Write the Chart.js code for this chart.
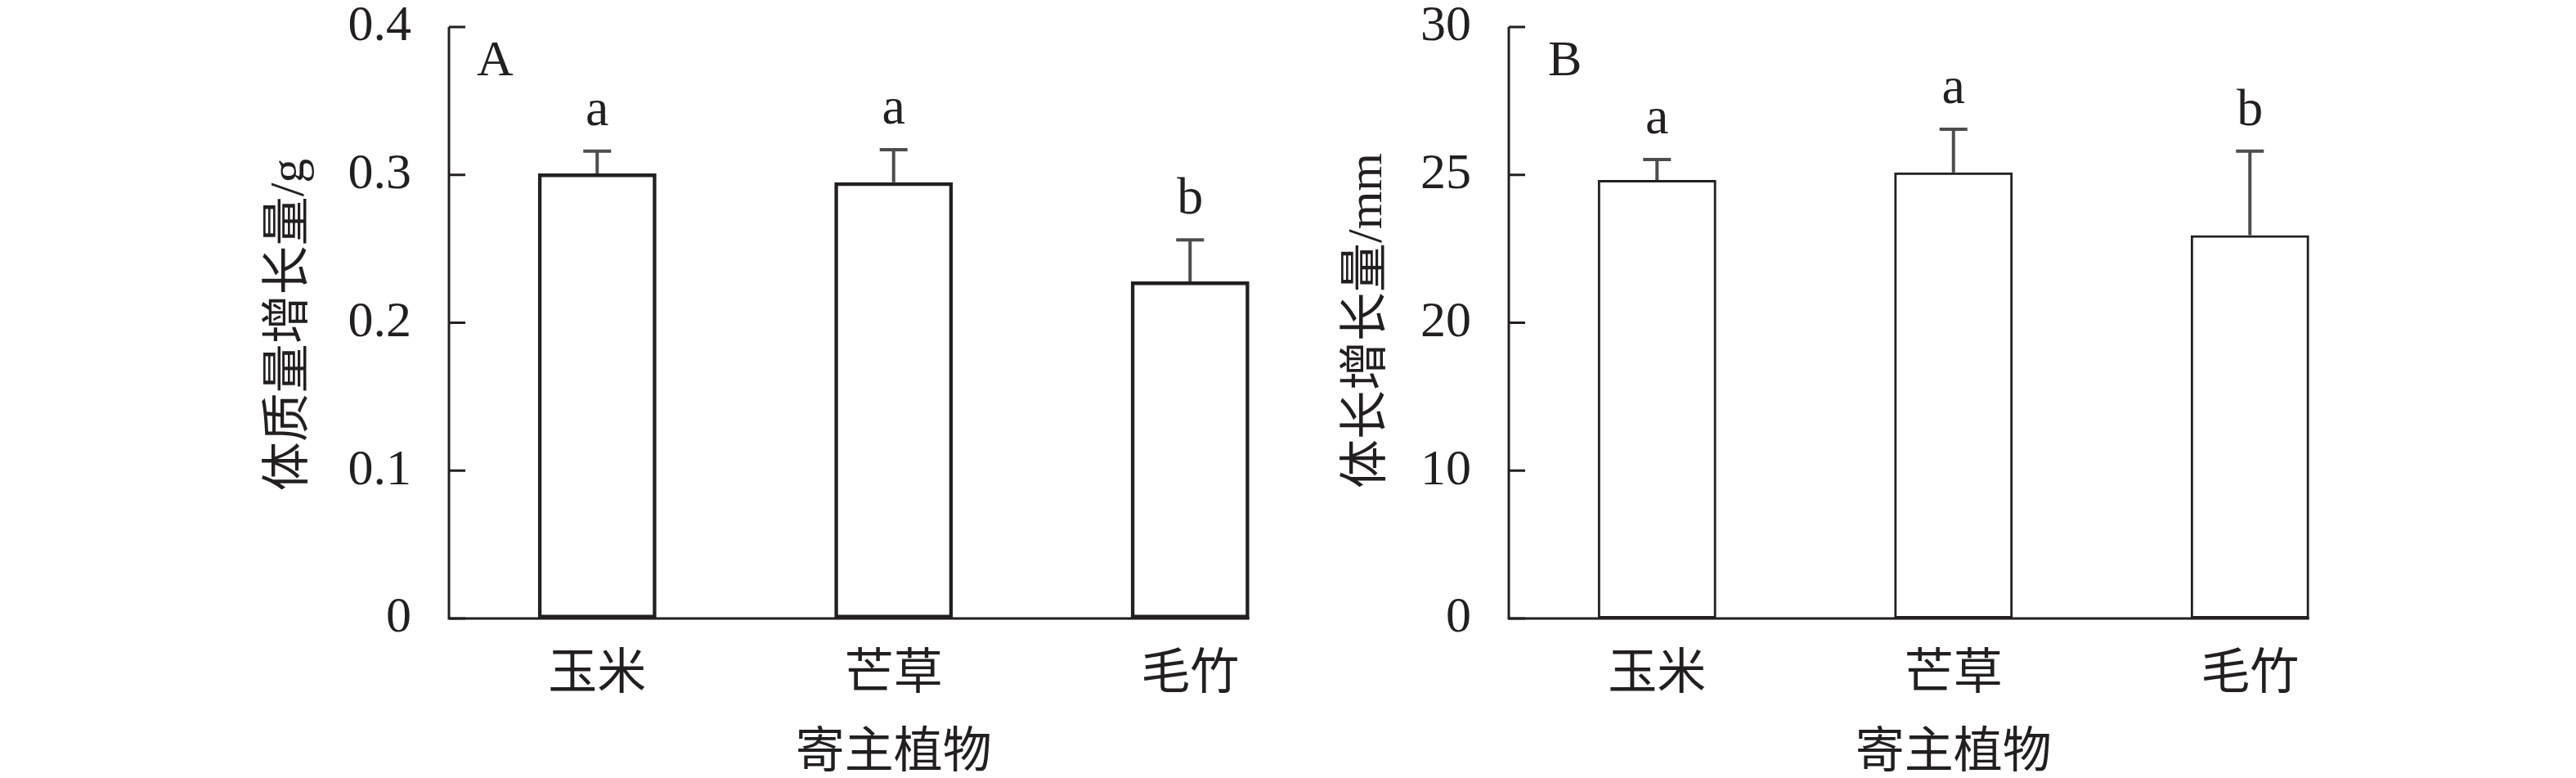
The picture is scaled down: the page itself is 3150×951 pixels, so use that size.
<!DOCTYPE html>
<html>
<head>
<meta charset="utf-8">
<script src="https://cdn.jsdelivr.net/npm/chart.js@4.4.1/dist/chart.umd.min.js"></script>
<style>
  body { margin: 0; background: #fff; }
  #wrap { position: relative; width: 3150px; height: 951px; }
  canvas { position: absolute; top: 0; }
</style>
</head>
<body>
<div id="wrap">
  <canvas id="chartA" width="1700" height="951" style="left:0"></canvas>
  <canvas id="chartB" width="1854" height="951" style="left:1296px"></canvas>
</div>
<script>
// host plants
const categories = ['玉米', '芒草', '毛竹'];

// A: body mass gain (g)
const massMean = [0.301, 0.295, 0.228];
const massErr = [0.015, 0.022, 0.028];
const massLetters = ['a', 'a', 'b'];
const massTicks = [0, 0.1, 0.2, 0.3, 0.4];
const massTickLabels = ['0', '0.1', '0.2', '0.3', '0.4'];

// B: body length gain (mm) - axis is broken above 20
const lenMean = [24.83, 25.08, 22.96];
const lenErr = [0.69, 1.46, 2.84];
const lenLetters = ['a', 'a', 'b'];
const lenTicks = [0, 10, 20, 25, 30];
const lenTickLabels = ['0', '10', '20', '25', '30'];

const ink = '#231f20';
const serif = '"Liberation Serif", "Noto Sans CJK SC", serif';

// value -> position on an axis whose ticks are evenly spaced
function toAxis(v, ticks) {
  for (let i = 0; i < ticks.length - 1; i++) {
    if (v <= ticks[i + 1] || i === ticks.length - 2) {
      return i + (v - ticks[i]) / (ticks[i + 1] - ticks[i]);
    }
  }
}

const panelPlugin = {
  id: 'panel',
  beforeDatasetsDraw(chart, args, o) {
    const ctx = chart.ctx, y = chart.scales.y, a = chart.chartArea;
    const bars = chart.getDatasetMeta(0).data;
    const last = bars[bars.length - 1];
    const y0 = y.getPixelForValue(0);
    ctx.save();
    ctx.strokeStyle = ink;
    ctx.lineWidth = 3;
    ctx.lineJoin = 'miter';
    ctx.beginPath();
    ctx.moveTo(a.left, y.getPixelForValue(o.ticks.length - 1));
    ctx.lineTo(a.left, y0);
    ctx.lineTo(last.x + last.width / 2, y0);
    ctx.stroke();

    ctx.fillStyle = ink;
    ctx.font = '62px ' + serif;
    ctx.textAlign = 'right';
    ctx.textBaseline = 'middle';
    o.ticks.forEach((t, i) => {
      const py = y.getPixelForValue(i);
      ctx.beginPath();
      ctx.moveTo(a.left, py);
      ctx.lineTo(a.left + 20, py);
      ctx.stroke();
      ctx.fillText(o.tickLabels[i], a.left - 46, py);
    });
    ctx.restore();
  },
  afterDatasetsDraw(chart, args, o) {
    const ctx = chart.ctx, y = chart.scales.y;
    const bars = chart.getDatasetMeta(0).data;
    ctx.save();
    ctx.fillStyle = ink;
    bars.forEach((bar, i) => {
      const top = y.getPixelForValue(toAxis(o.mean[i] + o.err[i], o.ticks));
      ctx.strokeStyle = '#4d4d4f';
      ctx.lineWidth = 4;
      ctx.beginPath();
      ctx.moveTo(bar.x, bar.y);
      ctx.lineTo(bar.x, top);
      ctx.moveTo(bar.x - 17, top);
      ctx.lineTo(bar.x + 17, top);
      ctx.stroke();

      ctx.font = '64px ' + serif;
      ctx.textAlign = 'center';
      ctx.textBaseline = 'alphabetic';
      ctx.fillText(o.letters[i], bar.x, top - 32);

      ctx.font = '60px ' + serif;
      ctx.textBaseline = 'middle';
      ctx.fillText(categories[i], bar.x, 826);
    });
    ctx.textAlign = 'center';
    ctx.textBaseline = 'middle';
    ctx.font = '60px ' + serif;
    ctx.fillText('寄主植物', bars[1].x, 922);

    ctx.font = '62px ' + serif;
    ctx.textAlign = 'left';
    ctx.fillText(o.panel, o.panelX, 76);

    ctx.translate(o.titleX, o.titleY);
    ctx.rotate(-Math.PI / 2);
    ctx.textAlign = 'center';
    ctx.font = '60px ' + serif;
    ctx.fillText(o.title, 0, 0);
    ctx.restore();
  }
};

function makeChart(id, width, mean, err, ticks, tickLabels, letters, borderW, extra) {
  return new Chart(document.getElementById(id), {
    type: 'bar',
    data: {
      labels: categories,
      datasets: [{
        data: mean.map(v => toAxis(v, ticks)),
        backgroundColor: 'rgba(255,255,255,0)',
        borderColor: ink,
        borderWidth: borderW,
        borderSkipped: false,
        barPercentage: 0.4,
        categoryPercentage: 1.0
      }]
    },
    options: {
      responsive: false,
      animation: false,
      events: [],
      layout: { padding: { left: 549, right: width - 549 - 1087.5, top: 33, bottom: 951 - 756 } },
      scales: {
        x: { type: 'category', offset: true, display: false },
        y: { min: 0, max: ticks.length - 1, display: false }
      },
      plugins: {
        legend: { display: false },
        tooltip: { enabled: false },
        panel: Object.assign({ mean, err, ticks, tickLabels, letters }, extra)
      }
    },
    plugins: [panelPlugin]
  });
}

makeChart('chartA', 1700, massMean, massErr, massTicks, massTickLabels, massLetters, 4.5,
  { panel: 'A', panelX: 583, title: '体质量增长量/g', titleX: 355, titleY: 397 });
makeChart('chartB', 1854, lenMean, lenErr, lenTicks, lenTickLabels, lenLetters, 3,
  { panel: 'B', panelX: 597, title: '体长增长量/mm', titleX: 377, titleY: 392 });
</script>
</body>
</html>
